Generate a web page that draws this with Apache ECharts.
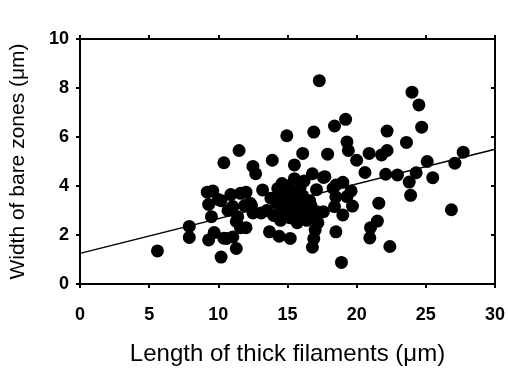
<!DOCTYPE html>
<html>
<head>
    <meta charset="UTF-8">
    <title>bare zones vs thick filaments</title>
    <script src="https://cdn.jsdelivr.net/npm/echarts@6/dist/echarts.min.js"></script>
    <style>
        html, body { margin: 0; padding: 0; background: #fff; }
        #chart { width: 508px; height: 371px; }
    </style>
</head>
<body>
<div id="chart"></div>
<script>
    // thick filament length (um)
    var lengthX = [
        5.6, 7.9, 7.9,
        9.2, 9.3, 9.5, 9.6, 9.7, 9.3, 10.0, 10.2, 10.2, 10.4, 10.4, 10.6, 10.7, 10.9,
        11.05, 11.05, 11.3, 11.3, 11.4, 11.5, 11.6, 11.6, 11.9, 12.0, 12.1, 12.0, 12.5, 12.7,
        12.3, 12.5, 12.4, 13.1, 13.2, 13.7, 14.4, 15.2,
        13.5, 13.8, 14.0, 14.2, 14.3, 14.5, 14.6, 14.8, 14.9, 15.0, 15.1, 15.2, 15.3, 15.4,
        15.5, 15.6, 15.7, 15.8, 15.9, 16.0, 16.1, 16.2, 16.3, 16.4, 15.0, 14.4, 14.6,
        16.8, 17.1, 17.1, 16.9, 16.6, 17.0, 16.9, 16.8, 17.6, 17.6, 16.7, 17.2,
        17.3, 16.9, 14.95, 18.4, 19.2, 19.3, 19.4, 17.9, 16.1, 15.5, 13.9,
        20.0, 20.9, 21.8, 22.2, 20.6, 22.1, 22.95, 24.3, 25.1, 23.8, 25.5, 27.1, 27.7,
        24.0, 24.5, 24.7, 22.2, 23.6, 23.9, 21.6, 21.5, 21.0, 20.95, 22.4, 26.85,
        19.0, 18.3, 19.6, 18.5, 19.3, 18.4, 19.7, 19.0, 18.5, 18.9, 18.5, 17.7
    ];
    // bare zone width (um)
    var widthY = [
        1.35, 2.35, 1.9,
        3.75, 3.25, 2.75, 3.8, 2.1, 1.8, 3.45, 3.4, 1.1, 4.95, 1.87, 1.86, 3.0, 3.65,
        3.16, 1.92, 1.45, 2.55, 2.75, 5.45, 3.7, 2.3, 3.2, 3.75, 3.2, 2.3, 4.8, 4.5,
        3.3, 2.9, 3.2, 2.9, 3.84, 2.13, 1.95, 1.86,
        3.0, 3.5, 2.8, 3.3, 3.9, 2.6, 3.1, 3.6, 2.9, 4.0, 3.3, 2.7, 3.7, 3.0,
        4.3, 3.5, 2.5, 3.2, 3.9, 2.9, 3.6, 4.2, 3.1, 2.6, 3.5, 3.5, 4.1,
        4.5, 3.85, 2.95, 2.75, 3.4, 2.2, 1.85, 1.5, 4.35, 2.95, 3.2, 2.5,
        8.3, 6.2, 6.05, 6.45, 6.72, 5.8, 5.45, 5.3, 5.33, 4.86, 5.05,
        5.05, 5.33, 5.27, 5.45, 4.55, 4.48, 4.45, 4.54, 5.0, 4.16, 4.34, 4.93, 5.38,
        7.83, 7.31, 6.4, 6.24, 5.78, 3.62, 3.3, 2.57, 2.3, 1.88, 1.53, 3.03,
        4.15, 3.91, 3.8, 3.55, 3.57, 3.16, 3.18, 2.82, 2.13, 0.88, 4.04, 4.38
    ];
    // regression line end points
    var fitX = [0, 30];
    var fitY = [1.25, 5.5];

    var xTicks = [0, 30, 5];
    var yTicks = [0, 10, 2];

    var points = [];
    for (var i = 0; i < lengthX.length; i++) {
        points.push([lengthX[i], widthY[i]]);
    }
    var fitLine = [];
    for (var j = 0; j < fitX.length; j++) {
        fitLine.push([fitX[j], fitY[j]]);
    }

    var myChart = echarts.init(document.getElementById('chart'));

    var lineStyle = { color: '#000', width: 2 };
    var labelFont = { color: '#000', fontFamily: 'Liberation Sans, Arial', fontWeight: 'bold', fontSize: 18 };

    var option = {
        animation: false,
        grid: { left: 77, right: 11, top: 39, bottom: 87 },
        xAxis: [{
            type: 'value',
            min: xTicks[0], max: xTicks[1], interval: xTicks[2],
            position: 'bottom',
            name: 'Length of thick filaments (\u03bcm)',
            nameLocation: 'middle',
            nameGap: 58,
            nameTextStyle: { color: '#000', fontFamily: 'Liberation Sans, Arial', fontSize: 24 },
            axisLine: { show: true, onZero: false, lineStyle: lineStyle },
            axisTick: { show: true, length: 4, lineStyle: lineStyle },
            axisLabel: Object.assign({ margin: 22 }, labelFont),
            splitLine: { show: false }
        }, {
            type: 'value',
            min: xTicks[0], max: xTicks[1], interval: xTicks[2],
            position: 'top',
            axisLine: { show: true, onZero: false, lineStyle: lineStyle },
            axisTick: { show: true, length: 4, lineStyle: lineStyle },
            axisLabel: { show: false },
            splitLine: { show: false }
        }],
        yAxis: [{
            type: 'value',
            min: yTicks[0], max: yTicks[1], interval: yTicks[2],
            position: 'left',
            name: 'Width of bare zones (\u03bcm)',
            nameLocation: 'middle',
            nameGap: 51,
            nameTextStyle: { color: '#000', fontFamily: 'Liberation Sans, Arial', fontSize: 21 },
            axisLine: { show: true, onZero: false, lineStyle: lineStyle },
            axisTick: { show: true, length: 4, lineStyle: lineStyle },
            axisLabel: Object.assign({ margin: 11 }, labelFont),
            splitLine: { show: false }
        }, {
            type: 'value',
            min: yTicks[0], max: yTicks[1], interval: yTicks[2],
            position: 'right',
            axisLine: { show: true, onZero: false, lineStyle: lineStyle },
            axisTick: { show: true, inside: true, length: 4, lineStyle: lineStyle },
            axisLabel: { show: false },
            splitLine: { show: false }
        }],
        series: [{
            type: 'scatter',
            data: points,
            symbol: 'circle',
            symbolSize: 13,
            itemStyle: { color: '#000', opacity: 1 }
        }, {
            type: 'line',
            data: fitLine,
            symbol: 'none',
            lineStyle: { color: '#000', width: 1.5 },
            z: 3
        }]
    };
    myChart.setOption(option);
</script>
</body>
</html>
